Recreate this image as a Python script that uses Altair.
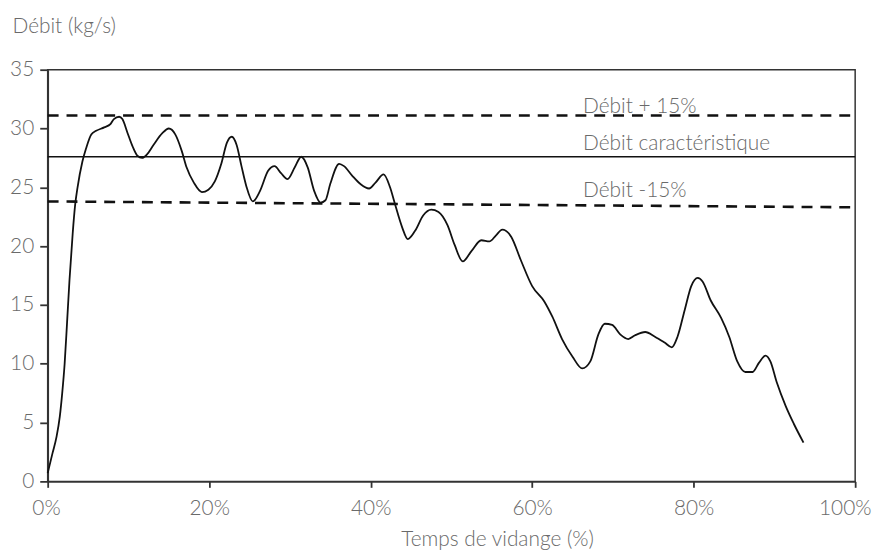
import altair as alt
import pandas as pd

# Flow curve: emptying time (%) vs flow (kg/s)
time_pct = [0, 0.6, 1.1, 1.5, 1.8, 2.1, 2.4, 2.7, 3.1, 3.4, 3.7, 4.3, 4.75, 5.4, 6.0, 7.0, 7.8, 8.2,
            8.85, 9.25, 9.9, 10.5, 11.1, 11.7, 12.3, 13.1, 14.2, 15.0, 15.8, 16.6, 17.2, 18.1, 19.1,
            19.9, 20.7, 21.5, 22.2, 22.8, 23.4, 24.0, 24.6, 25.4, 26.3, 27.3, 28.1, 28.9, 29.7, 30.6,
            31.4, 32.2, 33.0, 33.8, 34.4, 35.0, 36.1, 36.7, 37.7, 38.7, 39.8, 40.6, 41.6, 42.4, 43.0,
            43.9, 44.6, 45.5, 46.5, 47.5, 48.4, 49.5, 50.4, 51.4, 52.5, 53.7, 54.7, 55.5, 56.3, 57.4,
            58.6, 60.0, 61.5, 62.5, 63.7, 65.0, 66.2, 67.2, 68.2, 69.0, 69.9, 70.9, 71.9, 72.7, 74.0,
            75.2, 76.4, 77.3, 78.0, 78.9, 79.7, 80.5, 81.1, 82.1, 83.4, 84.4, 85.4, 86.4, 87.3, 88.1,
            88.9, 89.5, 90.3, 91.4, 92.4, 93.6]
flow = [0.7, 2.4, 3.8, 5.5, 7.5, 10.0, 13.5, 17.1, 21.1, 23.5, 25.0, 27.2, 28.3, 29.5, 29.8, 30.1, 30.4, 30.8,
        31.0, 30.8, 29.6, 28.5, 27.7, 27.5, 27.8, 28.6, 29.6, 30.0, 29.5, 28.1, 26.7, 25.4, 24.6,
        24.8, 25.5, 27.0, 28.8, 29.3, 28.6, 26.8, 25.1, 23.8, 24.7, 26.4, 26.8, 26.2, 25.7, 26.7,
        27.6, 26.7, 24.7, 23.7, 23.9, 25.3, 27.0, 26.8, 26.0, 25.3, 24.9, 25.4, 26.1, 25.0, 23.6,
        21.6, 20.6, 21.3, 22.6, 23.1, 22.9, 21.8, 20.1, 18.7, 19.6, 20.5, 20.4, 20.9, 21.4, 20.8,
        18.8, 16.6, 15.3, 14.0, 12.1, 10.6, 9.6, 10.2, 12.5, 13.4, 13.3, 12.5, 12.1, 12.4, 12.7,
        12.3, 11.8, 11.4, 12.3, 14.6, 16.6, 17.3, 17.0, 15.4, 13.9, 12.3, 10.2, 9.3, 9.3, 10.1,
        10.7, 10.2, 8.4, 6.4, 4.9, 3.3]

# Reference lines
ref_names = ["Débit + 15%", "Débit caractéristique", "Débit -15%"]
ref_dashed = [True, False, True]
ref_x_start = [0, 0, 0]
ref_x_end = [100, 100, 100]
ref_y_start = [31.1, 27.6, 23.8]
ref_y_end = [31.1, 27.6, 23.3]
label_x = 66.3
label_y = [31.1, 27.6, 23.55]

x_ticks = [0, 20, 40, 60, 80, 100]
y_ticks = [0, 5, 10, 15, 20, 25, 30, 35]

FONT = "Lato"
FS = 21
TXT = "#6a6a6a"
AX = "#333333"

curve_df = pd.DataFrame({"t": time_pct, "q": flow})
rows = []
for n, d, xs, xe, ys, ye in zip(ref_names, ref_dashed, ref_x_start, ref_x_end, ref_y_start, ref_y_end):
    rows.append({"name": n, "dashed": d, "t": xs, "q": ys})
    rows.append({"name": n, "dashed": d, "t": xe, "q": ye})
ref_df = pd.DataFrame(rows)

xscale = alt.Scale(domain=[0, 100], nice=False)
yscale = alt.Scale(domain=[0, 35], nice=False)

xenc = alt.X("t:Q", scale=xscale, axis=alt.Axis(
    values=x_ticks, labelExpr="datum.value + '%'", title="Temps de vidange (%)",
    titleX=453, titleY=59, titleAnchor="start", titleAlign="center", titleBaseline="middle",
    tickSize=6, labelPadding=10, grid=False, labelFlush=True, labelFlushOffset=16))
yenc = alt.Y("q:Q", scale=yscale, axis=alt.Axis(
    values=y_ticks, title="Débit (kg/s)", titleAngle=0, titleAlign="left",
    titleBaseline="middle", titleX=-36, titleY=-43, tickSize=8, labelPadding=6, grid=False))

curve = alt.Chart(curve_df).mark_line(color="#111111", strokeWidth=1.8, interpolate="monotone").encode(
    x=xenc, y=yenc)

dashed = alt.Chart(ref_df[ref_df["dashed"]]).mark_line(
    color="#111111", strokeWidth=2.6, strokeDash=[11, 8]).encode(
    x=alt.X("t:Q", scale=xscale), y=alt.Y("q:Q", scale=yscale), detail="name:N")

solid = alt.Chart(ref_df[~ref_df["dashed"]]).mark_line(
    color="#111111", strokeWidth=1.4).encode(
    x=alt.X("t:Q", scale=xscale), y=alt.Y("q:Q", scale=yscale), detail="name:N")

label_dy = [-3, -7, -7]
labels = []
for n, ly, dy in zip(ref_names, label_y, label_dy):
    ldf = pd.DataFrame({"t": [label_x], "q": [ly], "label": [n]})
    labels.append(alt.Chart(ldf).mark_text(
        align="left", baseline="alphabetic", dy=dy, font=FONT, fontSize=FS,
        fontWeight=300, color=TXT).encode(
        x=alt.X("t:Q", scale=xscale), y=alt.Y("q:Q", scale=yscale), text="label:N"))

chart = alt.layer(curve, dashed, solid, *labels).properties(
    width=814, height=415,
    autosize=alt.AutoSizeParams(type="none"),
    padding={"left": 40, "top": 60, "right": 20, "bottom": 70},
    background="white",
).configure_view(
    stroke=AX, strokeWidth=1.5
).configure_axis(
    labelFont=FONT, labelFontSize=FS, labelColor=TXT, labelFontWeight=300,
    titleFont=FONT, titleFontSize=FS, titleColor=TXT, titleFontWeight=300,
    domainColor=AX, domainWidth=1.8, tickColor=AX, tickWidth=1.8,
)

chart.save("out.html", embed_options={"renderer": "svg", "actions": False})
